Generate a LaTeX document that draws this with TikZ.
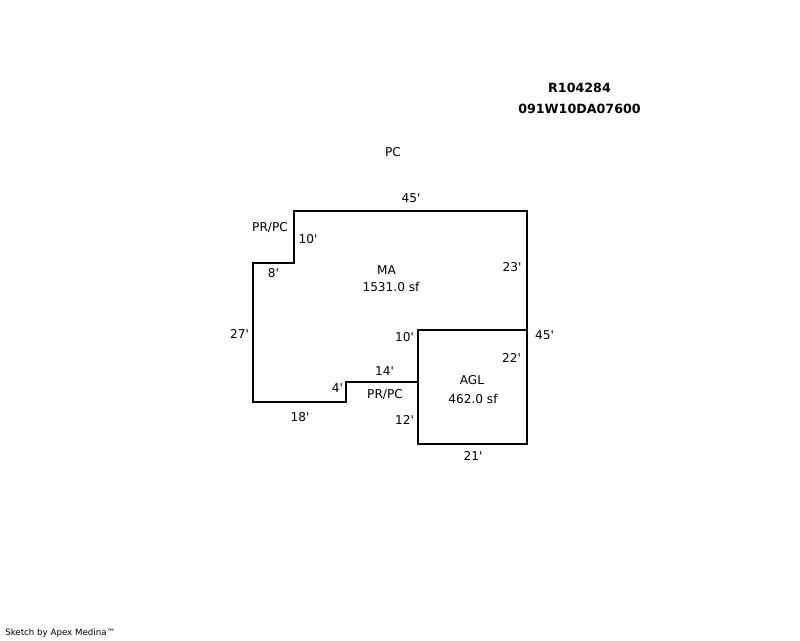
\documentclass[tikz,border=0pt]{standalone}
\usepackage{fontspec}
\setmainfont{DejaVu Sans}[Ligatures=TeXOff]
\begin{document}
\begin{tikzpicture}[x=0.75pt,y=-0.75pt,
  lbl/.style={inner sep=0pt,font=\fontsize{9.1}{11}\selectfont,text=black},
  ttl/.style={inner sep=0pt,font=\fontsize{9.5}{11}\selectfont\bfseries,text=black},
  wall/.style={line width=1.6pt,line join=miter}]
\useasboundingbox (0,0) rectangle (800,640);
\draw[wall](294,211)--(527,211)--(527,444)--(418,444)--(418,382)--(346,382)--(346,402)--(253,402)--(253,263)--(294,263)--cycle;
\draw[wall](418,382)--(418,330)--(527,330);
\node (title1) at (579.5,88)[ttl]{R104284};
\node (title2) at (579.5,109)[ttl]{091W10DA07600};
\node (pc) at (393,152)[lbl]{PC};
\node (top) at (411,198)[lbl]{45'};
\node (prpcA) at (270,228)[lbl]{PR/PC};
\node (notchA) at (308,239)[lbl]{10'};
\node (notchB) at (273.5,273)[lbl]{8'};
\node (ma) at (386.5,270)[lbl]{MA};
\node (maarea) at (391,287)[lbl]{1531.0 sf};
\node (rightA) at (512,267)[lbl]{23'};
\node (left) at (239.5,334)[lbl]{27'};
\node (agltop) at (404.5,337)[lbl]{10'};
\node (rightall) at (544.5,335)[lbl]{45'};
\node (rightB) at (511.5,358)[lbl]{22'};
\node (step) at (384.5,371)[lbl]{14'};
\node (stepside) at (337.5,388)[lbl]{4'};
\node (agl) at (472,380)[lbl]{AGL};
\node (prpcB) at (385,395)[lbl]{PR/PC};
\node (aglarea) at (473,399)[lbl]{462.0 sf};
\node (aglleft) at (404.5,420)[lbl]{12'};
\node (bottomA) at (300,417)[lbl]{18'};
\node (bottomB) at (473,456)[lbl]{21'};
\node (sketch) at (5,633)[anchor=west,inner sep=0pt,font=\fontsize{6.5}{8}\selectfont]{Sketch by Apex Medina™};
\end{tikzpicture}
\end{document}
